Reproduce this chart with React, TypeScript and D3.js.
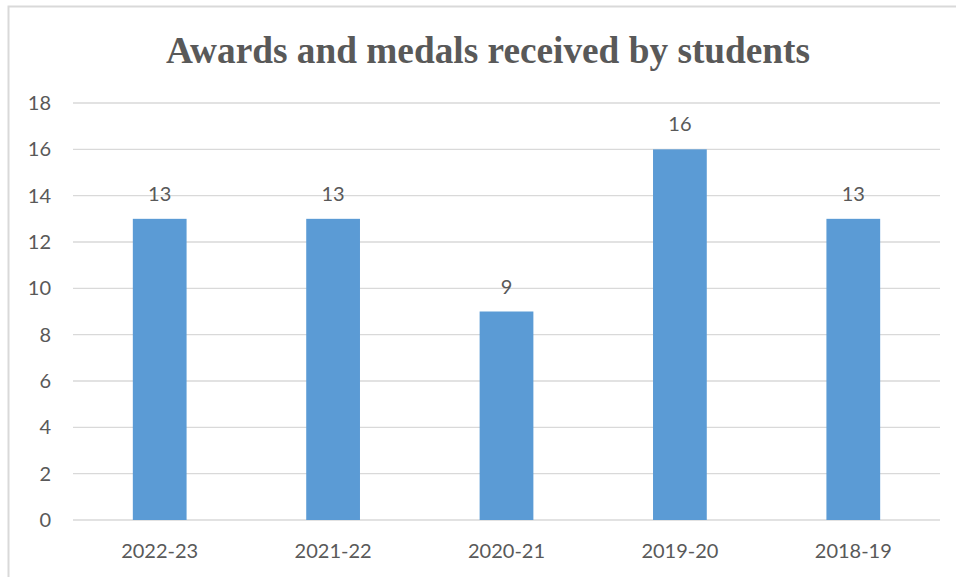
import * as d3 from "d3";

const CATEGORIES = ["2022-23", "2021-22", "2020-21", "2019-20", "2018-19"];
const VALUES = [13, 13, 9, 16, 13];
const Y_TICKS = [0, 2, 4, 6, 8, 10, 12, 14, 16, 18];

const W = 956;
const H = 577;
const TEXT = "#595959";
const FONT = "Lato, 'Open Sans', 'Liberation Sans', sans-serif";

export default function App() {
  const x = d3.scaleBand<string>().domain(CATEGORIES).range([73, 940]).padding(0);
  const y = d3.scaleLinear().domain([0, 18]).range([520, 103]);
  const barW = x.bandwidth() * 0.31;

  return (
    <svg
      width={W}
      height={H}
      style={{ position: "absolute", left: 0, top: 0, background: "#fff" }}
    >
      <rect x={8.5} y={6.5} width={W + 10} height={H + 10} fill="#fff" stroke="#d9d9d9" strokeWidth={2} />
      <text
        x={488}
        y={63}
        textAnchor="middle"
        fontFamily="'Liberation Serif', 'Times New Roman', serif"
        fontWeight="bold"
        fontSize={37.3}
        fill={TEXT}
      >
        Awards and medals received by students
      </text>

      {Y_TICKS.map((t) => (
        <g key={t}>
          <line x1={73} x2={940} y1={y(t)} y2={y(t)} stroke="#d9d9d9" strokeWidth={1.3} />
          <text
            x={51}
            y={y(t)}
            dy="0.35em"
            textAnchor="end"
            fontFamily={FONT}
            fontSize={20}
            fill={TEXT}
          >
            {t}
          </text>
        </g>
      ))}

      {CATEGORIES.map((c, i) => {
        const cx = (x(c) ?? 0) + x.bandwidth() / 2;
        return (
          <g key={c}>
            <rect x={cx - barW / 2} y={y(VALUES[i])} width={barW} height={y(0) - y(VALUES[i])} fill="#5b9bd5" />
            <text
              x={cx}
              y={y(VALUES[i]) - 18}
              textAnchor="middle"
              fontFamily={FONT}
              fontSize={20}
              fill={TEXT}
            >
              {VALUES[i]}
            </text>
            <text x={cx} y={558} textAnchor="middle" fontFamily={FONT} fontSize={20} fill={TEXT}>
              {c}
            </text>
          </g>
        );
      })}
    </svg>
  );
}
